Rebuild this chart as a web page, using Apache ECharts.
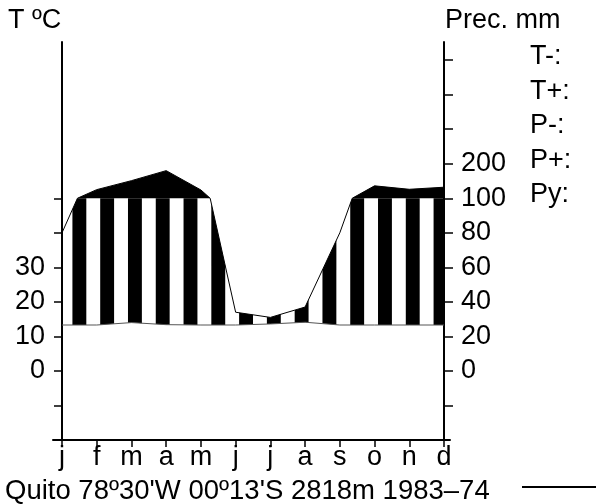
<!DOCTYPE html>
<html>
<head>
<meta charset="utf-8">
<script src="https://cdn.jsdelivr.net/npm/echarts@6/dist/echarts.min.js"></script>
<style>
  html, body { margin: 0; padding: 0; background: #fff; }
  #chart { width: 596px; height: 504px; }
</style>
</head>
<body>
<div id="chart"></div>
<script>
// climate diagram, Quito
var months = ['j', 'f', 'm', 'a', 'm', 'j', 'j', 'a', 's', 'o', 'n', 'd'];
var precip = [80, 125, 151, 180, 124, 34, 31, 37, 80, 136, 126, 132];   // mm
var temp = [13.3, 13.3, 14.0, 13.4, 13.3, 13.3, 13.6, 14.1, 13.3, 13.3, 13.3, 13.3]; // ºC
var tempTicks = [-10, 0, 10, 20, 30, 40, 50];
var tempLabels = [0, 10, 20, 30];
var precTicks = [-20, 0, 20, 40, 60, 80, 100, 200, 300, 400, 500];
var precLabels = [0, 20, 40, 60, 80, 100, 200];
var legendRows = ['T-:', 'T+:', 'P-:', 'P+:', 'Py:'];
var title = "Quito 78º30'W 00º13'S 2818m 1983–74";

var FONT = '"Liberation Sans", Arial, sans-serif';

// above 100 mm the scale is compressed 1:5
function precScale(p) {
  return p <= 100 ? p : 100 + (p - 100) / 5;
}
function precUnscale(v) {
  return v <= 100 ? v : 100 + (v - 100) * 5;
}
function lerp(arr, x) {
  var i = Math.min(Math.floor(x), arr.length - 2);
  return arr[i] + (arr[i + 1] - arr[i]) * (x - i);
}

function renderDiagram(params, api) {
  if (params.dataIndex !== 0) return null;
  var last = precip.length - 1;
  // months plus the points where precipitation crosses 100 mm
  var xs = [];
  for (var i = 0; i <= last; i++) {
    xs.push(i);
    if (i < last && (precip[i] - 100) * (precip[i + 1] - 100) < 0) {
      xs.push(i + (100 - precip[i]) / (precip[i + 1] - precip[i]));
    }
  }
  var children = [];

  // humid period: vertical stripes between temperature and precipitation (up to 100)
  for (var k = 0; ; k++) {
    var a = 0.3 + 0.8 * k;
    if (a >= last) break;
    var b = Math.min(a + 0.4, last);
    var pts = [a].concat(xs.filter(function (x) { return x > a && x < b; }), [b]);
    var top = pts.map(function (x) {
      var lo = 2 * lerp(temp, x);
      var hi = Math.min(lerp(precip, x), 100);
      return api.coord([x, Math.max(hi, lo)]);
    });
    var bottom = pts.slice().reverse().map(function (x) {
      return api.coord([x, 2 * lerp(temp, x)]);
    });
    children.push({
      type: 'polygon',
      shape: { points: top.concat(bottom) },
      style: { fill: '#000' }
    });
  }

  // above 100 mm: solid black
  var wet = xs.map(function (x) {
    return api.coord([x, Math.max(precScale(lerp(precip, x)), 100)]);
  });
  wet.push(api.coord([last, 100]), api.coord([0, 100]));
  children.push({ type: 'polygon', shape: { points: wet }, style: { fill: '#000' } });

  // temperature curve
  children.push({
    type: 'polyline',
    shape: { points: temp.map(function (t, i) { return api.coord([i, 2 * t]); }) },
    style: { stroke: '#555', lineWidth: 1, fill: null }
  });
  // precipitation curve
  children.push({
    type: 'polyline',
    shape: { points: xs.map(function (x) { return api.coord([x, precScale(lerp(precip, x))]); }) },
    style: { stroke: '#000', lineWidth: 1, fill: null }
  });
  return { type: 'group', children: children };
}

var chart = echarts.init(document.getElementById('chart'));
var yMin = -40, yMax = 190.5;
var axisText = { color: '#000', fontSize: 27, fontFamily: FONT };

var option = {
  animation: false,
  backgroundColor: '#fff',
  grid: [
    { left: 62, right: 152, top: 42, bottom: 64 },
    { left: 53, right: 146, top: 42, bottom: 64 }
  ],
  xAxis: [
    {
      type: 'value', gridIndex: 0, min: 0, max: 11, interval: 1,
      axisLine: { show: false, onZero: false },
      axisTick: { show: true, length: 7, lineStyle: { color: '#000', width: 1.5 } },
      splitLine: { show: false },
      axisLabel: Object.assign({ margin: 4, formatter: function (v) { return months[v]; } }, axisText)
    },
    {
      type: 'value', gridIndex: 1, min: 0, max: 1,
      axisLine: { show: true, onZero: false, lineStyle: { color: '#000', width: 2 } },
      axisTick: { show: false }, axisLabel: { show: false }, splitLine: { show: false }
    }
  ],
  yAxis: [
    {
      type: 'value', gridIndex: 0, position: 'left', min: yMin, max: yMax,
      axisLine: { show: true, lineStyle: { color: '#000', width: 2 } },
      axisTick: { show: true, length: 8, lineStyle: { color: '#000', width: 1.5 },
        customValues: tempTicks.map(function (t) { return 2 * t; }) },
      axisLabel: Object.assign({ margin: 17,
        customValues: tempLabels.map(function (t) { return 2 * t; }),
        formatter: function (v) { return String(Math.round(v / 2)); } }, axisText),
      splitLine: { show: false }
    },
    {
      type: 'value', gridIndex: 0, position: 'right', min: yMin, max: yMax,
      axisLine: { show: true, lineStyle: { color: '#000', width: 2 } },
      axisTick: { show: true, length: 9, lineStyle: { color: '#000', width: 1.5 },
        customValues: precTicks.map(precScale) },
      axisLabel: Object.assign({ margin: 17,
        customValues: precLabels.map(precScale),
        formatter: function (v) { return String(Math.round(precUnscale(v))); } }, axisText),
      splitLine: { show: false }
    },
    { type: 'value', gridIndex: 1, min: 0, max: 1, show: false }
  ],
  series: [{
    type: 'custom',
    silent: true,
    xAxisIndex: 0,
    yAxisIndex: 0,
    renderItem: renderDiagram,
    data: months.map(function (m, i) { return [i, precScale(precip[i]), 2 * temp[i]]; })
  }],
  graphic: [
    { type: 'text', left: 8, top: 7, style: { text: 'T ºC', fill: '#000', font: '27px ' + FONT } },
    { type: 'text', left: 445, top: 7, style: { text: 'Prec. mm', fill: '#000', font: '27px ' + FONT } },
    { type: 'text', left: 5, top: 477, style: { text: title, fill: '#000', font: '27.5px ' + FONT } },
    { type: 'line', shape: { x1: 522, y1: 487, x2: 596, y2: 487 }, style: { stroke: '#000', lineWidth: 2 } }
  ].concat(legendRows.map(function (t, i) {
    return { type: 'text', x: 530, y: 57 + i * 34.5,
      style: { text: t, fill: '#000', font: '27px ' + FONT, verticalAlign: 'middle' } };
  }))
};
chart.setOption(option);
</script>
</body>
</html>
